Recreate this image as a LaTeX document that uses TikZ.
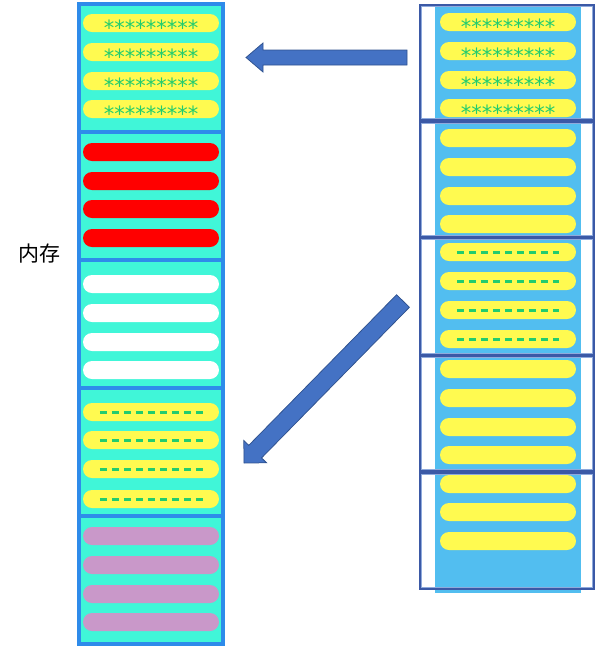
\documentclass[tikz,border=0pt]{standalone}
\usepackage{fontspec}
\newfontfamily\cjk{Noto Sans CJK SC}
\newfontfamily\starfont{DejaVu Sans}
\usetikzlibrary{shapes.misc}
\definecolor{turq}{RGB}{64,246,216}
\definecolor{lborder}{RGB}{46,139,234}
\definecolor{pillyellow}{RGB}{255,250,80}
\definecolor{pillred}{RGB}{255,0,0}
\definecolor{pillpurple}{RGB}{201,152,201}
\definecolor{markgreen}{RGB}{34,204,110}
\definecolor{rblue}{RGB}{82,190,240}
\definecolor{rborder}{RGB}{59,89,166}
\definecolor{rinner}{RGB}{143,170,220}
\definecolor{arrowfill}{RGB}{68,114,196}
\definecolor{arrowdraw}{RGB}{47,82,143}
\begin{document}
\begin{tikzpicture}[x=1pt,y=-1pt,
  pill/.style={rounded rectangle, minimum width=136pt, minimum height=18pt, inner sep=0pt, draw=none},
  section/.style={rectangle, minimum width=144pt, minimum height=128pt, inner sep=0pt, fill=turq},
  secborder/.style={draw=lborder, line width=3.5pt},
  stars/.style={font=\starfont\fontsize{21}{21}\selectfont, text=markgreen, inner sep=0pt, anchor=base},
  dashline/.style={draw=markgreen, line width=3pt, dash pattern=on 6.7pt off 5.3pt},
  rbox/.style={rectangle, minimum width=173pt, inner sep=0pt, draw=rborder, line width=3pt},
  blockarrow/.style={fill=arrowfill, draw=arrowdraw, line width=0.75pt, line join=miter}
]
\useasboundingbox (0,0) rectangle (595,649);

% ---------- left column (memory) ----------
\foreach \i/\t in {1/4,2/132,3/260,4/388,5/516}{
  \node[section] (S\i) at (151,\t+64) {};
}
% section 1: yellow with stars
\foreach \j/\y in {a/23,b/52,c/81,d/109}{
  \node[pill, fill=pillyellow] (L1\j) at (151,\y) {};
  \node[stars] (L1\j t) at (151,\y+12.5) {*********};
}
% section 2: red
\foreach \j/\y in {a/152,b/181,c/209,d/238}{
  \node[pill, fill=pillred] (L2\j) at (151,\y) {};
}
% section 3: white
\foreach \j/\y in {a/284,b/313,c/342,d/370}{
  \node[pill, fill=white] (L3\j) at (151,\y) {};
}
% section 4: yellow with dashes
\foreach \j/\y in {a/412,b/440,c/469,d/499}{
  \node[pill, fill=pillyellow] (L4\j) at (151,\y) {};
  \draw[dashline] ([xshift=17pt]L4\j.west) -- ([xshift=-16pt]L4\j.east);
}
% section 5: purple
\foreach \j/\y in {a/536,b/565,c/594,d/622}{
  \node[pill, fill=pillpurple] (L5\j) at (151,\y) {};
}
% borders of the column
\draw[secborder] (S1.north west) rectangle (S5.south east);
\foreach \i in {1,2,3,4}{
  \draw[secborder] (S\i.south west) -- (S\i.south east);
}
\node[font=\cjk\fontsize{21}{21}\selectfont, inner sep=0pt] (mem) at (40,254) {内存};

% ---------- right column ----------
\node[rectangle, fill=rblue, minimum width=146pt, minimum height=586pt, inner sep=0pt] (RB) at (508,300) {};
% box 1: yellow with stars
\foreach \j/\y in {a/22,b/51,c/80,d/108}{
  \node[pill, fill=pillyellow] (R1\j) at (508,\y) {};
  \node[stars] (R1\j t) at (508,\y+12.5) {*********};
}
% box 2: plain yellow
\foreach \j/\y in {a/138,b/167,c/196,d/224}{
  \node[pill, fill=pillyellow] (R2\j) at (508,\y) {};
}
% box 3: yellow with dashes
\foreach \j/\y in {a/252,b/281,c/310,d/339}{
  \node[pill, fill=pillyellow] (R3\j) at (508,\y) {};
  \draw[dashline] ([xshift=17pt]R3\j.west) -- ([xshift=-17pt]R3\j.east);
}
% box 4: plain yellow
\foreach \j/\y in {a/369,b/398,c/427,d/455}{
  \node[pill, fill=pillyellow] (R4\j) at (508,\y) {};
}
% box 5: plain yellow (three)
\foreach \j/\y in {a/484,b/512,c/541}{
  \node[pill, fill=pillyellow] (R5\j) at (508,\y) {};
}
% the five boxes
\foreach \i/\ya/\yb in {1/5/119,2/122/236,3/238/354,4/356/470,5/473/588}{
  \node[rbox, minimum height={\yb-\ya}] (B\i) at (506.5,{(\ya+\yb)/2}) {};
  \draw[rinner, line width=0.8pt] ([shift={(2.4pt,-2.4pt)}]B\i.north west) rectangle ([shift={(-2.4pt,2.4pt)}]B\i.south east);
}

% ---------- block arrows ----------
\coordinate (A1tip) at (246,57.5);
\fill[blockarrow] (A1tip) -- (263,43) -- (263,50) -- (407,50) -- (407,65) -- (263,65) -- (263,72) -- cycle;
\coordinate (A2tip) at (244,463);
\fill[blockarrow] (A2tip) -- (243.8,440.4) -- (248.8,445.3) -- (396.6,294.7) -- (409.4,307.3) -- (261.6,457.9) -- (266.6,462.8) -- cycle;
\end{tikzpicture}
\end{document}
